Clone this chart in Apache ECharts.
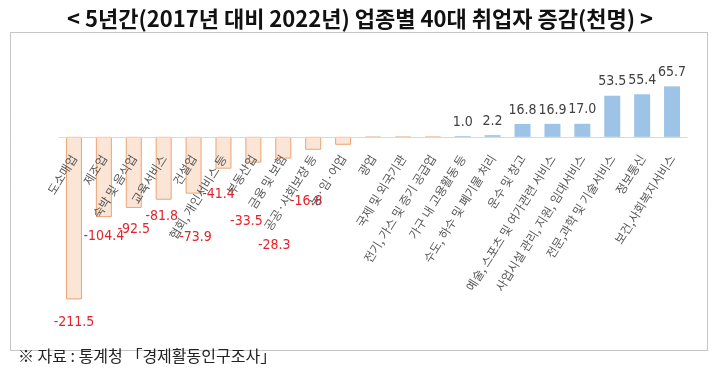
<!DOCTYPE html>
<html>
<head>
<meta charset="utf-8">
<script src="https://cdn.jsdelivr.net/npm/echarts@6/dist/echarts.min.js"></script>
<style>
html,body{margin:0;padding:0;background:#fff;}
#chart{width:720px;height:377px;}
</style>
</head>
<body>
<div id="chart"></div>
<script>
// ---- data ----
const categories = [
  '도소매업', '제조업', '숙박 및 음식업', '교육서비스', '건설업',
  '협회, 개인서비스 등', '부동산업', '금융 및 보험', '공공·사회보장 등', '농·임·어업',
  '광업', '국제 및 외국기관', '전기, 가스 및 증기 공급업', '가구 내 고용활동 등',
  '수도, 하수 및 폐기물 처리', '운수 및 창고', '예술, 스포츠 및 여가관련 서비스',
  '사업시설 관리, 지원, 임대서비스', '전문,과학 및 기술서비스', '정보통신', '보건,사회복지서비스'
];
const changeValues = [
  -211.5, -104.4, -92.5, -81.8, -73.9,
  -41.4, -33.5, -28.3, -16.8, -10.3,
  -1.0, -0.9, -0.9, 1.0,
  2.2, 16.8, 16.9,
  17.0, 53.5, 55.4, 65.7
];
// which values carry a printed label in the source chart
const labelShown = [
  true, true, true, true, true,
  true, true, true, true, false,
  false, false, false, true,
  true, true, true,
  true, true, true, true
];
const titleText = '< 5년간(2017년 대비 2022년) 업종별 40대 취업자 증감(천명) >';
const sourceText = '※ 자료 : 통계청 「경제활동인구조사」';

// ---- style (label nudges for negative labels, pixels) ----
const negLabelDistance = [16, 12, 14, 10, 37, 19, 52, 80, 45];
const negLabelShiftX = [0, 0, 0, -2, 2, -5, -7, -9, -7];

const numFont = "'Liberation Sans Narrow','DejaVu Sans Condensed','Roboto Condensed','Liberation Sans',sans-serif";

const Y_MIN = -250, Y_MAX = 100;
const GRID_TOP = 60, GRID_H = 269;
// move the category axis (line + labels) up to the zero line
const zeroOffset = -GRID_H * (0 - Y_MIN) / (Y_MAX - Y_MIN);

const seriesData = changeValues.map((v, i) => {
  const neg = v < 0;
  return {
    value: v,
    itemStyle: neg
      ? { color: '#FBE5D6', borderColor: '#EDA372', borderWidth: 1 }
      : { color: '#9DC3E6' },
    label: {
      show: labelShown[i],
      position: neg ? 'bottom' : 'top',
      distance: neg ? (negLabelDistance[i] ?? 10) : 7,
      offset: neg ? [negLabelShiftX[i] ?? 0, 0] : [0, 0],
      color: neg ? '#E3242B' : '#404040',
      fontSize: 14,
      fontFamily: numFont,
      formatter: (p) => p.value.toFixed(1)
    }
  };
});

const chart = echarts.init(document.getElementById('chart'));
chart.setOption({
  animation: false,
  backgroundColor: '#ffffff',
  title: {
    text: titleText,
    left: 'center',
    top: 3,
    textStyle: {
      fontFamily: "'Noto Sans CJK KR', sans-serif",
      fontSize: 22,
      fontWeight: 'bold',
      color: '#111'
    }
  },
  graphic: [
    {
      type: 'rect',
      shape: { x: 10.5, y: 32.5, width: 697, height: 318 },
      style: { fill: 'none', stroke: '#8a8a8a', lineWidth: 1, lineDash: [1, 1] },
      silent: true
    },
    {
      type: 'text',
      left: 18,
      top: 348,
      style: {
        text: sourceText,
        fontFamily: "'Noto Sans CJK KR', sans-serif",
        fontSize: 16,
        fill: '#222'
      }
    }
  ],
  grid: { left: 59, right: 33, top: GRID_TOP, height: GRID_H, containLabel: false, outerBoundsMode: 'none' },
  xAxis: {
    type: 'category',
    data: categories,
    position: 'bottom',
    offset: zeroOffset,
    axisLine: { onZero: false, lineStyle: { color: '#D9D9D9', width: 1 } },
    axisTick: { show: false },
    axisLabel: {
      interval: 0,
      rotate: 58,
      margin: 19,
      color: '#595959',
      fontSize: 12,
      fontFamily: "'Noto Sans CJK KR', sans-serif"
    },
    z: 10
  },
  yAxis: {
    type: 'value',
    min: Y_MIN,
    max: Y_MAX,
    interval: 50,
    show: false,
    splitLine: { show: false }
  },
  series: [{
    type: 'bar',
    data: seriesData,
    barWidth: 16
  }]
});
</script>
</body>
</html>
